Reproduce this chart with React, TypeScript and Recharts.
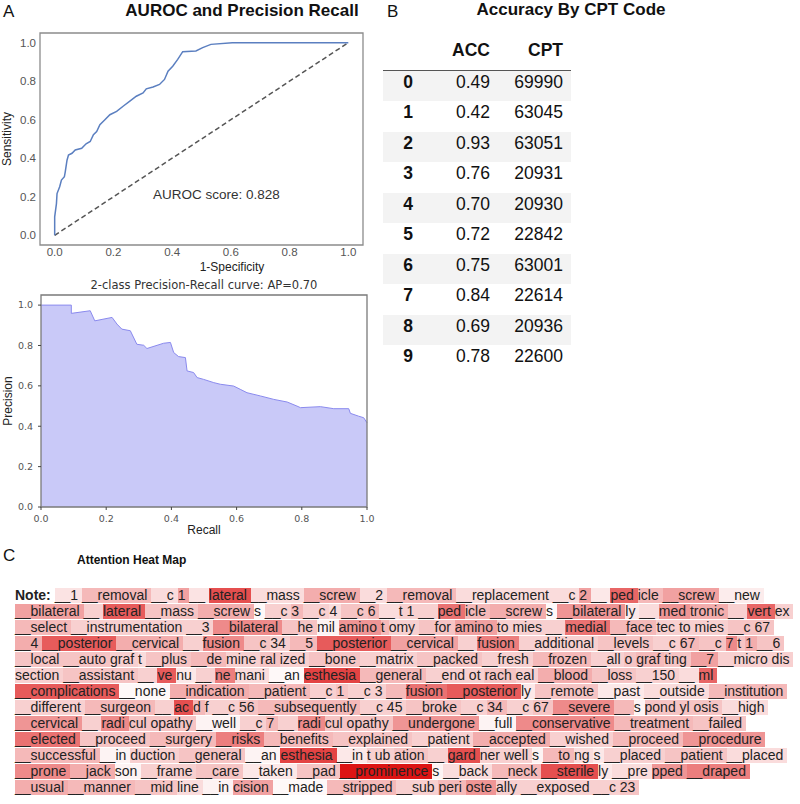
import { LineChart, Line, AreaChart, Area, XAxis, YAxis, ReferenceArea, ReferenceLine } from 'recharts';

const SANS = '"Liberation Sans", Arial, Helvetica, sans-serif';
const MPL = '"DejaVu Sans", sans-serif';

// ROC curve (1-specificity vs sensitivity)
const rocFpr = [0, 0, 0.006, 0.008, 0.017, 0.023, 0.033, 0.036, 0.042, 0.047, 0.059, 0.07, 0.092, 0.107, 0.121, 0.132, 0.143, 0.154, 0.171, 0.188, 0.211, 0.233, 0.256, 0.278, 0.301, 0.312, 0.335, 0.357, 0.374, 0.386, 0.402, 0.419, 0.436, 0.481, 0.504, 0.532, 0.605, 1.0];
const rocTpr = [0, 0.096, 0.165, 0.217, 0.252, 0.287, 0.304, 0.33, 0.39, 0.417, 0.426, 0.443, 0.452, 0.475, 0.487, 0.522, 0.539, 0.574, 0.6, 0.626, 0.643, 0.67, 0.696, 0.722, 0.739, 0.76, 0.77, 0.783, 0.809, 0.852, 0.878, 0.913, 0.953, 0.957, 0.974, 0.991, 1.0, 1.0];

// precision-recall curve
const prRecall = [0, 0.093, 0.093, 0.151, 0.165, 0.218, 0.233, 0.248, 0.274, 0.294, 0.315, 0.325, 0.376, 0.397, 0.407, 0.422, 0.443, 0.448, 0.468, 0.479, 0.499, 0.53, 0.55, 0.591, 0.611, 0.632, 0.673, 0.714, 0.755, 0.785, 0.796, 0.857, 0.898, 0.944, 0.949, 0.974, 0.99, 1.0];
const prPrecision = [1.0, 1.0, 0.959, 0.972, 0.922, 0.939, 0.906, 0.881, 0.873, 0.806, 0.801, 0.785, 0.811, 0.815, 0.765, 0.745, 0.74, 0.674, 0.666, 0.641, 0.632, 0.616, 0.608, 0.599, 0.583, 0.566, 0.55, 0.533, 0.52, 0.5, 0.492, 0.497, 0.487, 0.487, 0.464, 0.45, 0.442, 0.417];

const unitTicks = [0, 0.2, 0.4, 0.6, 0.8, 1.0];

// accuracy table
const cptIndex = [0, 1, 2, 3, 4, 5, 6, 7, 8, 9];
const cptAcc = [0.49, 0.42, 0.93, 0.76, 0.7, 0.72, 0.75, 0.84, 0.69, 0.78];
const cptCode = ['69990', '63045', '63051', '20931', '20930', '22842', '63001', '22614', '20936', '22600'];

// attention heat map: one string of tokens per line, one weight per token
const heatLines = [
  'Note: __1 __removal __c 1 __ lateral __mass __screw __2 __removal __replacement __c 2 __ ped icle __screw __new',
  '__bilateral __ lateral __mass __screw s __c 3 __c 4 __c 6 __ t 1 __ ped icle __screw s __bilateral ly __ med tronic __ vert ex',
  '__select __instrumentation __3 __bilateral __he mil amino t omy __for amino to mies __ medial __face tec to mies __c 67',
  '__4 __posterior __cervical __ fusion __c 34 __5 __posterior __cervical __ fusion __additional __levels __c 67 __c 7 t 1 __6',
  '__local __auto graf t __plus __de mine ral ized __bone __matrix __packed __fresh __frozen __all o graf ting __7 __micro dis',
  'section __assistant __ ve nu __ ne mani __an esthesia __general __end ot rach eal __blood __loss __150 __ ml',
  '__complications __none __indication __patient __c 1 __c 3 __ fusion __posterior ly __remote __past __outside __institution',
  '__different __surgeon __ ac d f __c 56 __subsequently __c 45 __broke __c 34 __c 67 __severe __ s pond yl osis __high',
  '__cervical __ radi cul opathy __well __c 7 __ radi cul opathy __undergone __full __conservative __treatment __failed',
  '__elected __proceed __surgery __risks __benefits __explained __patient __accepted __wished __proceed __procedure',
  '__successful __in duction __general __an esthesia __in t ub ation __ gard ner well s __to ng s __placed __patient __placed',
  '__prone __jack son __frame __care __taken __pad __prominence s __back __neck __sterile ly __pre pped __draped',
  '__usual __manner __mid line __in cision __made __stripped __sub peri oste ally __exposed __c 23',
];
const heatWeights = [
  [0, 0.12, 0.3, 0.15, 0.4, 0.12, 0.75, 0.15, 0.35, 0.15, 0.3, 0.15, 0.15, 0.4, 0.1, 0.65, 0.3, 0.4, 0.08],
  [0.4, 0.2, 0.7, 0.25, 0.35, 0.03, 0.2, 0.3, 0.2, 0.15, 0.25, 0.3, 0.15, 0.2, 0.2, 0.2, 0.6, 0.3, 0.35, 0.03, 0.45, 0.1, 0.15, 0.45, 0.35, 0.2, 0.65, 0.2],
  [0.3, 0.2, 0.2, 0.5, 0.25, 0.05, 0.45, 0.3, 0.2, 0.25, 0.4, 0.2, 0.2, 0.2, 0.6, 0.3, 0.2, 0.2, 0.2, 0.25, 0.25],
  [0.35, 0.7, 0.35, 0.2, 0.5, 0.25, 0.2, 0.3, 0.7, 0.4, 0.2, 0.55, 0.2, 0.25, 0.2, 0.3, 0.25, 0.5, 0.25, 0.35, 0.25],
  [0.25, 0.25, 0.2, 0.15, 0.25, 0.3, 0.2, 0.25, 0.2, 0.25, 0.2, 0.25, 0.2, 0.3, 0.2, 0.25, 0.3, 0.25, 0.4, 0.2, 0.2],
  [0.2, 0.25, 0.2, 0.7, 0.1, 0.2, 0.55, 0.15, 0.03, 0.8, 0.3, 0.2, 0.2, 0.25, 0.2, 0.35, 0.25, 0.2, 0.15, 0.65],
  [0.7, 0.03, 0.35, 0.3, 0.2, 0.25, 0.2, 0.2, 0.3, 0.6, 0.7, 0.1, 0.25, 0.1, 0.15, 0.3],
  [0.2, 0.3, 0.2, 0.75, 0.3, 0.2, 0.2, 0.25, 0.3, 0.2, 0.2, 0.25, 0.2, 0.3, 0.2, 0.25, 0.5, 0.3, 0.05, 0.25, 0.25, 0.25, 0.15],
  [0.45, 0.2, 0.5, 0.25, 0.25, 0.05, 0.2, 0.3, 0.2, 0.5, 0.25, 0.25, 0.45, 0.05, 0.5, 0.3, 0.25],
  [0.6, 0.25, 0.3, 0.55, 0.3, 0.25, 0.2, 0.35, 0.2, 0.3, 0.45],
  [0.3, 0.05, 0.2, 0.25, 0.05, 0.8, 0.1, 0.2, 0.2, 0.25, 0.2, 0.75, 0.2, 0.2, 0.05, 0.3, 0.15, 0.1, 0.2, 0.25, 0.15],
  [0.5, 0.35, 0.05, 0.2, 0.25, 0.1, 0.25, 1.0, 0.05, 0.15, 0.3, 0.75, 0.1, 0.15, 0.45, 0.55],
  [0.35, 0.3, 0.25, 0.15, 0.05, 0.4, 0.03, 0.3, 0.2, 0.3, 0.45, 0.2, 0.2, 0.2, 0.25],
];

const rocData = rocFpr.map((fpr, i) => ({ fpr, tpr: rocTpr[i] }));
const prData = prRecall.map((recall, i) => ({ recall, precision: prPrecision[i] }));

function heatColor(w: number) {
  const r = Math.round(255 - 35 * w);
  const gb = Math.round(255 - 235 * w);
  return `rgb(${r},${gb},${gb})`;
}

const fmt = (v: number) => v.toFixed(1);

function RocChart() {
  const tick = { fill: '#555', fontSize: 11.5, fontFamily: SANS };
  return (
    <LineChart width={375} height={240} data={rocData} margin={{ top: 8, right: 12, left: 2, bottom: 0 }}>
      <XAxis type="number" dataKey="fpr" domain={[-0.05, 1.05]} ticks={unitTicks} tickFormatter={fmt}
        axisLine={false} tickLine={false} tickSize={0} tickMargin={3} height={20} tick={tick} allowDataOverflow />
      <YAxis type="number" domain={[-0.05, 1.05]} ticks={unitTicks} tickFormatter={fmt}
        axisLine={false} tickLine={false} tickSize={0} tickMargin={4} width={38} tick={tick} allowDataOverflow
        label={{ value: 'Sensitivity', angle: -90, position: 'insideLeft', offset: 5,
          style: { textAnchor: 'middle', fontSize: 12, fill: '#222', fontFamily: SANS } }} />
      <ReferenceArea x1={-0.05} x2={1.05} y1={-0.05} y2={1.05} fill="none" stroke="#8c8c8c" strokeWidth={1.3} />
      <ReferenceLine segment={[{ x: 0, y: 0 }, { x: 1, y: 1 }]} stroke="#555" strokeWidth={1.5} strokeDasharray="5 3" />
      <Line dataKey="tpr" type="linear" stroke="#5b7fc0" strokeWidth={1.5} dot={false} isAnimationActive={false} />
    </LineChart>
  );
}

function PrChart() {
  const tick = { fill: '#555', fontSize: 9.5, fontFamily: MPL };
  return (
    <AreaChart width={375} height={247} data={prData} margin={{ top: 5, right: 8, left: 3, bottom: 0 }}>
      <XAxis type="number" dataKey="recall" domain={[0, 1]} ticks={unitTicks} tickFormatter={fmt}
        axisLine={false} tickLine={{ stroke: '#444' }} tickSize={3} tickMargin={5} height={30} tick={tick}
        label={{ value: 'Recall', position: 'insideBottom', offset: 3,
          style: { fontSize: 12, fill: '#222', fontFamily: SANS } }} />
      <YAxis type="number" domain={[0, 1.05]} ticks={unitTicks} tickFormatter={fmt}
        axisLine={false} tickLine={{ stroke: '#444' }} tickSize={3} tickMargin={5} width={38} tick={tick}
        label={{ value: 'Precision', angle: -90, position: 'insideLeft', offset: 5,
          style: { textAnchor: 'middle', fontSize: 12, fill: '#222', fontFamily: SANS } }} />
      <Area dataKey="precision" type="linear" stroke="#8a8aee" strokeWidth={1} fill="#c9c9f8" fillOpacity={1}
        isAnimationActive={false} />
      <ReferenceArea x1={0} x2={1} y1={0} y2={1.05} fill="none" stroke="#7a7a7a" strokeWidth={1.3} />
    </AreaChart>
  );
}

const abs = (left: number, top: number, extra: Record<string, any> = {}) =>
  ({ position: 'absolute' as const, left, top, lineHeight: 1, whiteSpace: 'nowrap' as const, ...extra });

export default function App() {
  const rowH = 30.45;
  return (
    <div style={{ position: 'absolute', left: 0, top: 0, width: 800, height: 804, background: '#fff',
      fontFamily: SANS, color: '#111', overflow: 'hidden' }}>
      {/* panel A */}
      <div style={abs(3, 3, { fontSize: 17 })}>A</div>
      <div style={abs(92, 2, { width: 300, textAlign: 'center', fontSize: 17, fontWeight: 'bold' })}>AUROC and Precision Recall</div>
      <div style={abs(0, 25)}><RocChart /></div>
      <div style={abs(153, 188, { fontSize: 13.5, color: '#333' })}>AUROC score: 0.828</div>
      <div style={abs(172, 260.5, { width: 120, textAlign: 'center', fontSize: 12, color: '#222' })}>1-Specificity</div>
      <div style={abs(54, 279.5, { width: 300, textAlign: 'center', fontSize: 11.5, fontFamily: MPL, color: '#333' })}>
        2-class Precision-Recall curve: AP=0.70
      </div>
      <div style={abs(0, 290)}><PrChart /></div>

      {/* panel B */}
      <div style={abs(387, 3, { fontSize: 17 })}>B</div>
      <div style={abs(421, 1, { width: 300, textAlign: 'center', fontSize: 17, fontWeight: 'bold' })}>Accuracy By CPT Code</div>
      <div style={abs(383, 40, { width: 188, height: 20, fontSize: 17.5, fontWeight: 'bold', lineHeight: '20px' })}>
        <span style={{ position: 'absolute', right: 81 }}>ACC</span>
        <span style={{ position: 'absolute', right: 8 }}>CPT</span>
      </div>
      <div style={abs(383, 70, { width: 188, height: 0, borderTop: '1.5px solid #555' })} />
      {cptIndex.map((idx, i) => (
        <div key={idx} style={abs(383, 71 + rowH * i, { width: 188, height: rowH, fontSize: 17.5, lineHeight: '22px',
          background: i % 2 === 0 ? '#f3f3f3' : 'transparent' })}>
          <span style={{ position: 'absolute', right: 158, fontWeight: 'bold' }}>{idx}</span>
          <span style={{ position: 'absolute', right: 81 }}>{cptAcc[i].toFixed(2)}</span>
          <span style={{ position: 'absolute', right: 8 }}>{cptCode[i]}</span>
        </div>
      ))}

      {/* panel C */}
      <div style={abs(3, 547, { fontSize: 17 })}>C</div>
      <div style={abs(77, 553.5, { fontSize: 12, fontWeight: 'bold' })}>Attention Heat Map</div>
      <div style={abs(15, 588)}>
        {heatLines.map((line, li) => (
          <div key={li} style={{ height: 16, whiteSpace: 'nowrap' }}>
            {line.split(' ').map((tok, ti) => (
              <span key={ti} style={{ display: 'inline-block', height: 15, lineHeight: '15px', fontSize: 14,
                whiteSpace: 'pre', color: '#222', verticalAlign: 'top',
                fontWeight: tok === 'Note:' ? 'bold' : 'normal',
                background: heatColor(heatWeights[li][ti] ?? 0) }}>{tok + ' '}</span>
            ))}
          </div>
        ))}
      </div>
    </div>
  );
}
